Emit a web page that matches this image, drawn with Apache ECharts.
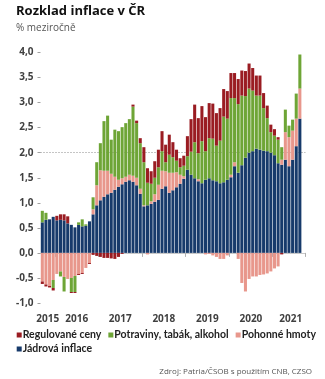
<!DOCTYPE html>
<html>
<head>
<meta charset="utf-8">
<script src="https://cdn.jsdelivr.net/npm/echarts@6/dist/echarts.min.js"></script>
<style>
  html, body { margin: 0; padding: 0; background: #ffffff; }
  #chart { width: 325px; height: 379px; }
</style>
</head>
<body>
<div id="chart"></div>
<script>
// Monthly categories, Sep 2015 – Sep 2021 (the last month has no data yet)
const months = [
  '2015-09','2015-10','2015-11','2015-12',
  '2016-01','2016-02','2016-03','2016-04','2016-05','2016-06','2016-07','2016-08','2016-09','2016-10','2016-11','2016-12',
  '2017-01','2017-02','2017-03','2017-04','2017-05','2017-06','2017-07','2017-08','2017-09','2017-10','2017-11','2017-12',
  '2018-01','2018-02','2018-03','2018-04','2018-05','2018-06','2018-07','2018-08','2018-09','2018-10','2018-11','2018-12',
  '2019-01','2019-02','2019-03','2019-04','2019-05','2019-06','2019-07','2019-08','2019-09','2019-10','2019-11','2019-12',
  '2020-01','2020-02','2020-03','2020-04','2020-05','2020-06','2020-07','2020-08','2020-09','2020-10','2020-11','2020-12',
  '2021-01','2021-02','2021-03','2021-04','2021-05','2021-06','2021-07','2021-08','2021-09'
];

// Contributions to y/y inflation, percentage points
const coreInflation = [
  0.61,0.66,0.67,0.72,
  0.65,0.66,0.65,0.59,0.56,0.51,0.56,0.53,0.54,0.63,0.77,0.95,
  1.05,1.12,1.17,1.20,1.26,1.32,1.37,1.42,1.45,1.42,1.35,1.18,
  0.93,0.95,0.98,1.02,1.06,1.28,1.33,1.20,1.25,1.31,1.38,1.48,
  1.66,1.56,1.49,1.43,1.39,1.46,1.49,1.45,1.43,1.39,1.41,1.46,
  1.51,1.73,1.60,1.75,1.90,2.00,2.03,2.08,2.06,2.04,2.03,2.00,
  1.95,1.79,1.76,1.86,1.73,1.86,2.13,2.68
];
const fuel = [
  -0.57,-0.63,-0.66,-0.54,
  -0.42,-0.37,-0.48,-0.52,-0.50,-0.46,-0.42,-0.40,-0.30,-0.20,0.10,0.40,
  0.60,0.52,0.47,0.38,0.26,0.14,0.12,0.10,0.11,0.12,0.15,0.10,
  0.02,-0.03,0.05,0.15,0.30,0.36,0.30,0.40,0.35,0.30,0.18,0.05,
  0.00,0.00,0.00,0.04,0.00,-0.03,-0.02,-0.05,-0.08,-0.12,-0.12,-0.05,
  0.05,0.08,-0.12,-0.60,-0.77,-0.52,-0.47,-0.47,-0.44,-0.43,-0.41,-0.37,
  -0.31,-0.27,0.10,0.55,0.58,0.58,0.55,0.60
];
const food = [
  0.23,0.14,0.00,-0.16,
  0.00,-0.10,-0.29,0.00,-0.28,-0.32,0.05,0.14,0.03,0.00,0.24,0.46,
  0.54,0.99,1.10,0.68,0.94,0.97,1.02,1.07,1.11,1.38,1.09,0.91,
  0.86,0.45,0.35,0.33,0.35,0.39,0.18,0.36,0.31,0.23,0.15,0.21,
  0.27,0.46,0.72,0.52,0.84,0.57,0.80,0.83,0.71,0.85,1.31,1.22,
  1.53,1.28,1.37,1.39,1.23,1.28,1.21,1.06,1.08,0.85,0.66,0.41,
  0.39,0.47,0.25,0.45,0.23,0.22,0.50,0.68
];
const regulated = [
  -0.05,-0.04,-0.03,-0.05,
  0.09,0.11,0.12,0.14,-0.02,-0.02,-0.02,-0.02,0.00,-0.02,-0.04,-0.06,
  -0.08,-0.10,-0.10,-0.11,-0.12,-0.08,-0.02,0.00,0.00,0.04,0.05,0.10,
  0.30,0.29,0.25,0.33,0.35,0.40,0.35,0.40,0.30,0.22,0.18,0.20,
  0.40,0.65,0.75,0.70,0.70,0.68,0.70,0.70,0.65,0.65,0.55,0.55,
  0.50,0.50,0.50,0.50,0.50,0.50,0.45,0.40,0.40,0.30,0.25,0.15,
  0.13,0.05,-0.03,0.00,0.00,0.00,0.00,0.00
];
const inflationTarget = 2.0;

const names = ['Regulované ceny', 'Potraviny, tabák, alkohol', 'Pohonné hmoty', 'Jádrová inflace'];
const colors = {
  'Regulované ceny': '#9a1c22',
  'Potraviny, tabák, alkohol': '#6ea536',
  'Pohonné hmoty': '#e8978c',
  'Jádrová inflace': '#173a6b'
};
const legendKeys = { 'Regulované ceny': 'k0', 'Potraviny, tabák, alkohol': 'k1', 'Pohonné hmoty': 'k2', 'Jádrová inflace': 'k3' };

// One year label per year, at the middle of that year's months
const yearLabelAt = {};
(function () {
  const byYear = {};
  months.forEach((m, i) => {
    const y = m.slice(0, 4);
    (byYear[y] = byYear[y] || []).push(i);
  });
  Object.keys(byYear).forEach(y => {
    const idx = byYear[y];
    yearLabelAt[Math.floor((idx[0] + idx[idx.length - 1]) / 2)] = y;
  });
})();

const FONT = '"Open Sans", "Noto Sans", sans-serif';
const LEGEND_FONT = 'Lato, "Open Sans", sans-serif';

const chart = echarts.init(document.getElementById('chart'), null, { renderer: 'canvas' });

function barSeries(name, data, extra) {
  return Object.assign({
    name: name,
    type: 'bar',
    stack: 'total',
    data: data,
    barCategoryGap: '16%',
    itemStyle: { color: colors[name] },
    emphasis: { disabled: true },
    animation: false
  }, extra || {});
}

const rich = {
  t: { fontFamily: LEGEND_FONT, fontSize: 10.5, fontWeight: 'bold', color: '#222', padding: [0, 0, 0, 1] }
};
names.forEach(n => {
  rich[legendKeys[n]] = { width: 5, height: 5, backgroundColor: colors[n] };
});

chart.setOption({
  animation: false,
  textStyle: { fontFamily: FONT },
  title: [
    {
      text: 'Rozklad inflace v ČR',
      subtext: '% meziročně',
      left: 16, top: 5, padding: 0, itemGap: 5,
      textStyle: { fontFamily: FONT, fontSize: 13, fontWeight: 'bold', color: '#111' },
      subtextStyle: { fontFamily: FONT, fontSize: 10, color: '#555' }
    },
    {
      text: 'Zdroj: Patria/ČSOB s použitím CNB, CZSO',
      right: 13, top: 368, padding: 0,
      textStyle: { fontFamily: FONT, fontSize: 8, fontWeight: 'normal', color: '#555' }
    }
  ],
  legend: {
    data: names,
    left: 11.7, top: 329,
    width: 310,
    itemWidth: 0, itemHeight: 0, itemGap: 2,
    padding: 0,
    icon: 'rect',
    selectedMode: false,
    formatter: n => '{' + legendKeys[n] + '|}{t|' + n + '}',
    textStyle: { rich: rich, lineHeight: 12 }
  },
  grid: { left: 40.5, right: 19.7, top: 52.5, bottom: 76, containLabel: false },
  xAxis: {
    type: 'category',
    data: months,
    offset: 6.5,
    axisLine: { lineStyle: { color: '#c8c8c8', width: 1 } },
    axisTick: {
      show: true, length: 4,
      interval: (i, v) => v.endsWith('-01'),
      lineStyle: { color: '#b0b0b0' }
    },
    axisLabel: {
      interval: (i) => yearLabelAt[i] !== undefined,
      formatter: (v, i) => yearLabelAt[i] || '',
      padding: [0, 0, 0, 3.6],
      margin: 5,
      fontFamily: FONT, fontSize: 10, fontWeight: 'bold', color: '#404040'
    },
    splitLine: { show: false }
  },
  yAxis: {
    type: 'value',
    min: -1, max: 4, interval: 0.5,
    axisLine: { show: false },
    axisTick: { show: true, length: 3, lineStyle: { color: '#a0a0a0' } },
    splitLine: { show: false },
    axisLabel: {
      margin: 7,
      formatter: v => v.toFixed(1).replace('.', ','),
      fontFamily: FONT, fontSize: 10, fontWeight: 'bold', color: '#404040'
    }
  },
  series: [
    barSeries('Jádrová inflace', coreInflation, {
      markLine: {
        silent: true, symbol: 'none', z: 1,
        label: { show: false },
        lineStyle: { type: [1, 2], color: '#8a8a8a', width: 1 },
        data: [{ yAxis: inflationTarget }]
      }
    }),
    barSeries('Pohonné hmoty', fuel),
    barSeries('Potraviny, tabák, alkohol', food),
    barSeries('Regulované ceny', regulated)
  ]
});
</script>
</body>
</html>
